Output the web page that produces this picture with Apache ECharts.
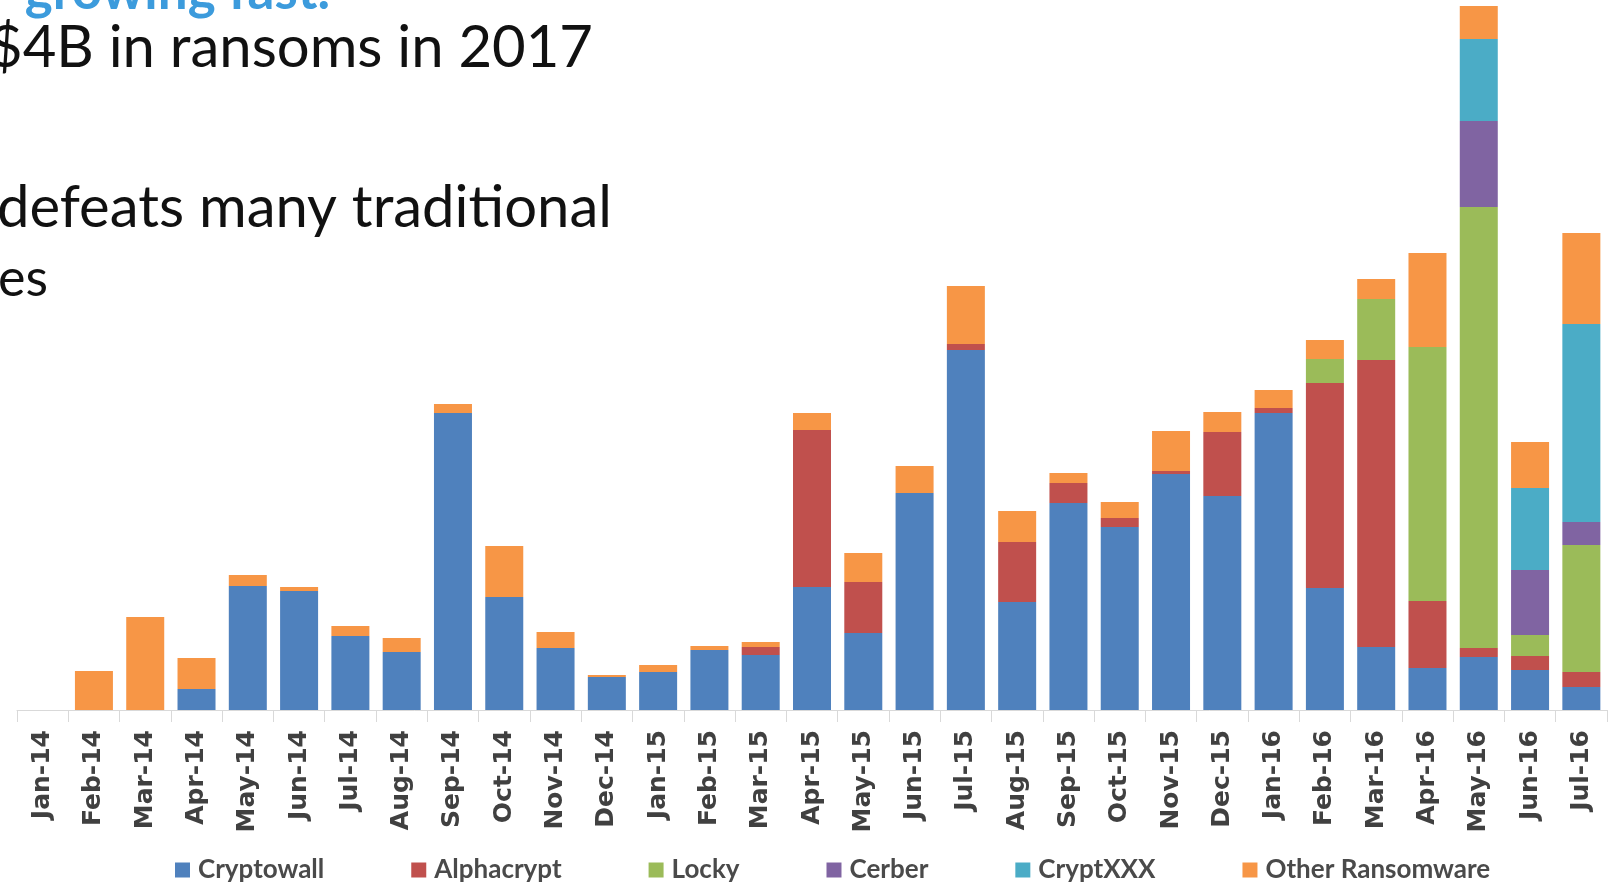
<!DOCTYPE html>
<html>
<head>
<meta charset="utf-8">
<script src="https://cdn.jsdelivr.net/npm/echarts@6/dist/echarts.min.js"></script>
<style>
html,body{margin:0;padding:0;background:#fff;}
#chart{width:1617px;height:883px;}
</style>
</head>
<body>
<div id="chart"></div>
<script>
const months = ["Jan-14","Feb-14","Mar-14","Apr-14","May-14","Jun-14","Jul-14","Aug-14","Sep-14","Oct-14","Nov-14","Dec-14",
  "Jan-15","Feb-15","Mar-15","Apr-15","May-15","Jun-15","Jul-15","Aug-15","Sep-15","Oct-15","Nov-15","Dec-15",
  "Jan-16","Feb-16","Mar-16","Apr-16","May-16","Jun-16","Jul-16"];

const cryptowall = [0,0,0,21,124,119,74,58,297,113,62,33, 38,60,55,123,77,217,360,108,207,183,236,214, 297,122,63,42,53,40,23];
const alphacrypt = [0,0,0,0,0,0,0,0,0,0,0,0, 0,0,8,157,51,0,6,60,20,9,3,64, 5,205,287,67,9,14,15];
const locky      = [0,0,0,0,0,0,0,0,0,0,0,0, 0,0,0,0,0,0,0,0,0,0,0,0, 0,24,61,254,441,21,127];
const cerber     = [0,0,0,0,0,0,0,0,0,0,0,0, 0,0,0,0,0,0,0,0,0,0,0,0, 0,0,0,0,86,65,23];
const cryptxxx   = [0,0,0,0,0,0,0,0,0,0,0,0, 0,0,0,0,0,0,0,0,0,0,0,0, 0,0,0,0,82,82,198];
const other      = [0,39,93,31,11,4,10,14,9,51,16,2, 7,4,5,17,29,27,58,31,10,16,40,20, 18,19,20,94,33,46,91];

const seriesNames = ["Cryptowall","Alphacrypt","Locky","Cerber","CryptXXX","Other Ransomware"];
const seriesData = [cryptowall, alphacrypt, locky, cerber, cryptxxx, other];
const colors = ["#4F81BD","#C0504D","#9BBB59","#8064A2","#4BACC6","#F79646"];

const chart = echarts.init(document.getElementById('chart'));
chart.setOption({
  animation: false,
  backgroundColor: '#ffffff',
  color: colors,
  grid: { left: 17, right: 10, top: 0, bottom: 173, containLabel: false },
  legend: {
    left: 170, top: 852,
    icon: 'rect', itemWidth: 15, itemHeight: 15, itemGap: 87,
    textStyle: { fontFamily: 'Lato', fontWeight: 'bold', fontSize: 26, color: '#4a4a4a', padding: [0,0,0,3] },
    data: seriesNames
  },
  xAxis: {
    type: 'category', data: months,
    axisLine: { lineStyle: { color: '#d9d9d9', width: 1 } },
    axisTick: { show: true, length: 12, lineStyle: { color: '#d9d9d9' } },
    axisLabel: { rotate: 90, margin: 20, fontFamily: 'DejaVu Sans', fontWeight: 'bold', fontSize: 25, color: '#404040', interval: 0 }
  },
  yAxis: { type: 'value', min: 0, max: 710, show: false, splitLine: { show: false } },
  series: seriesNames.map((n, i) => ({
    name: n, type: 'bar', stack: 'total', barWidth: 38, data: seriesData[i],
    itemStyle: { color: colors[i] }
  })),
  graphic: [
    { type: 'text', style: { text: 'growing fast.', x: 330, y: 18, textAlign: 'right', textVerticalAlign: 'bottom', font: 'bold 53px Lato', fill: '#3C9BDC' } },
    { type: 'text', style: { text: '$4B in ransoms in 2017', x: 593, y: 77, textAlign: 'right', textVerticalAlign: 'bottom', font: '400 58px Lato', fill: '#111111' } },
    { type: 'text', style: { text: 'defeats many traditional', x: 612, y: 237, textAlign: 'right', textVerticalAlign: 'bottom', font: '400 58px Lato', fill: '#111111' } },
    { type: 'text', style: { text: 'es', x: -2, y: 305, textAlign: 'left', textVerticalAlign: 'bottom', font: '400 52px Lato', fill: '#111111' } }
  ]
});
</script>
</body>
</html>
